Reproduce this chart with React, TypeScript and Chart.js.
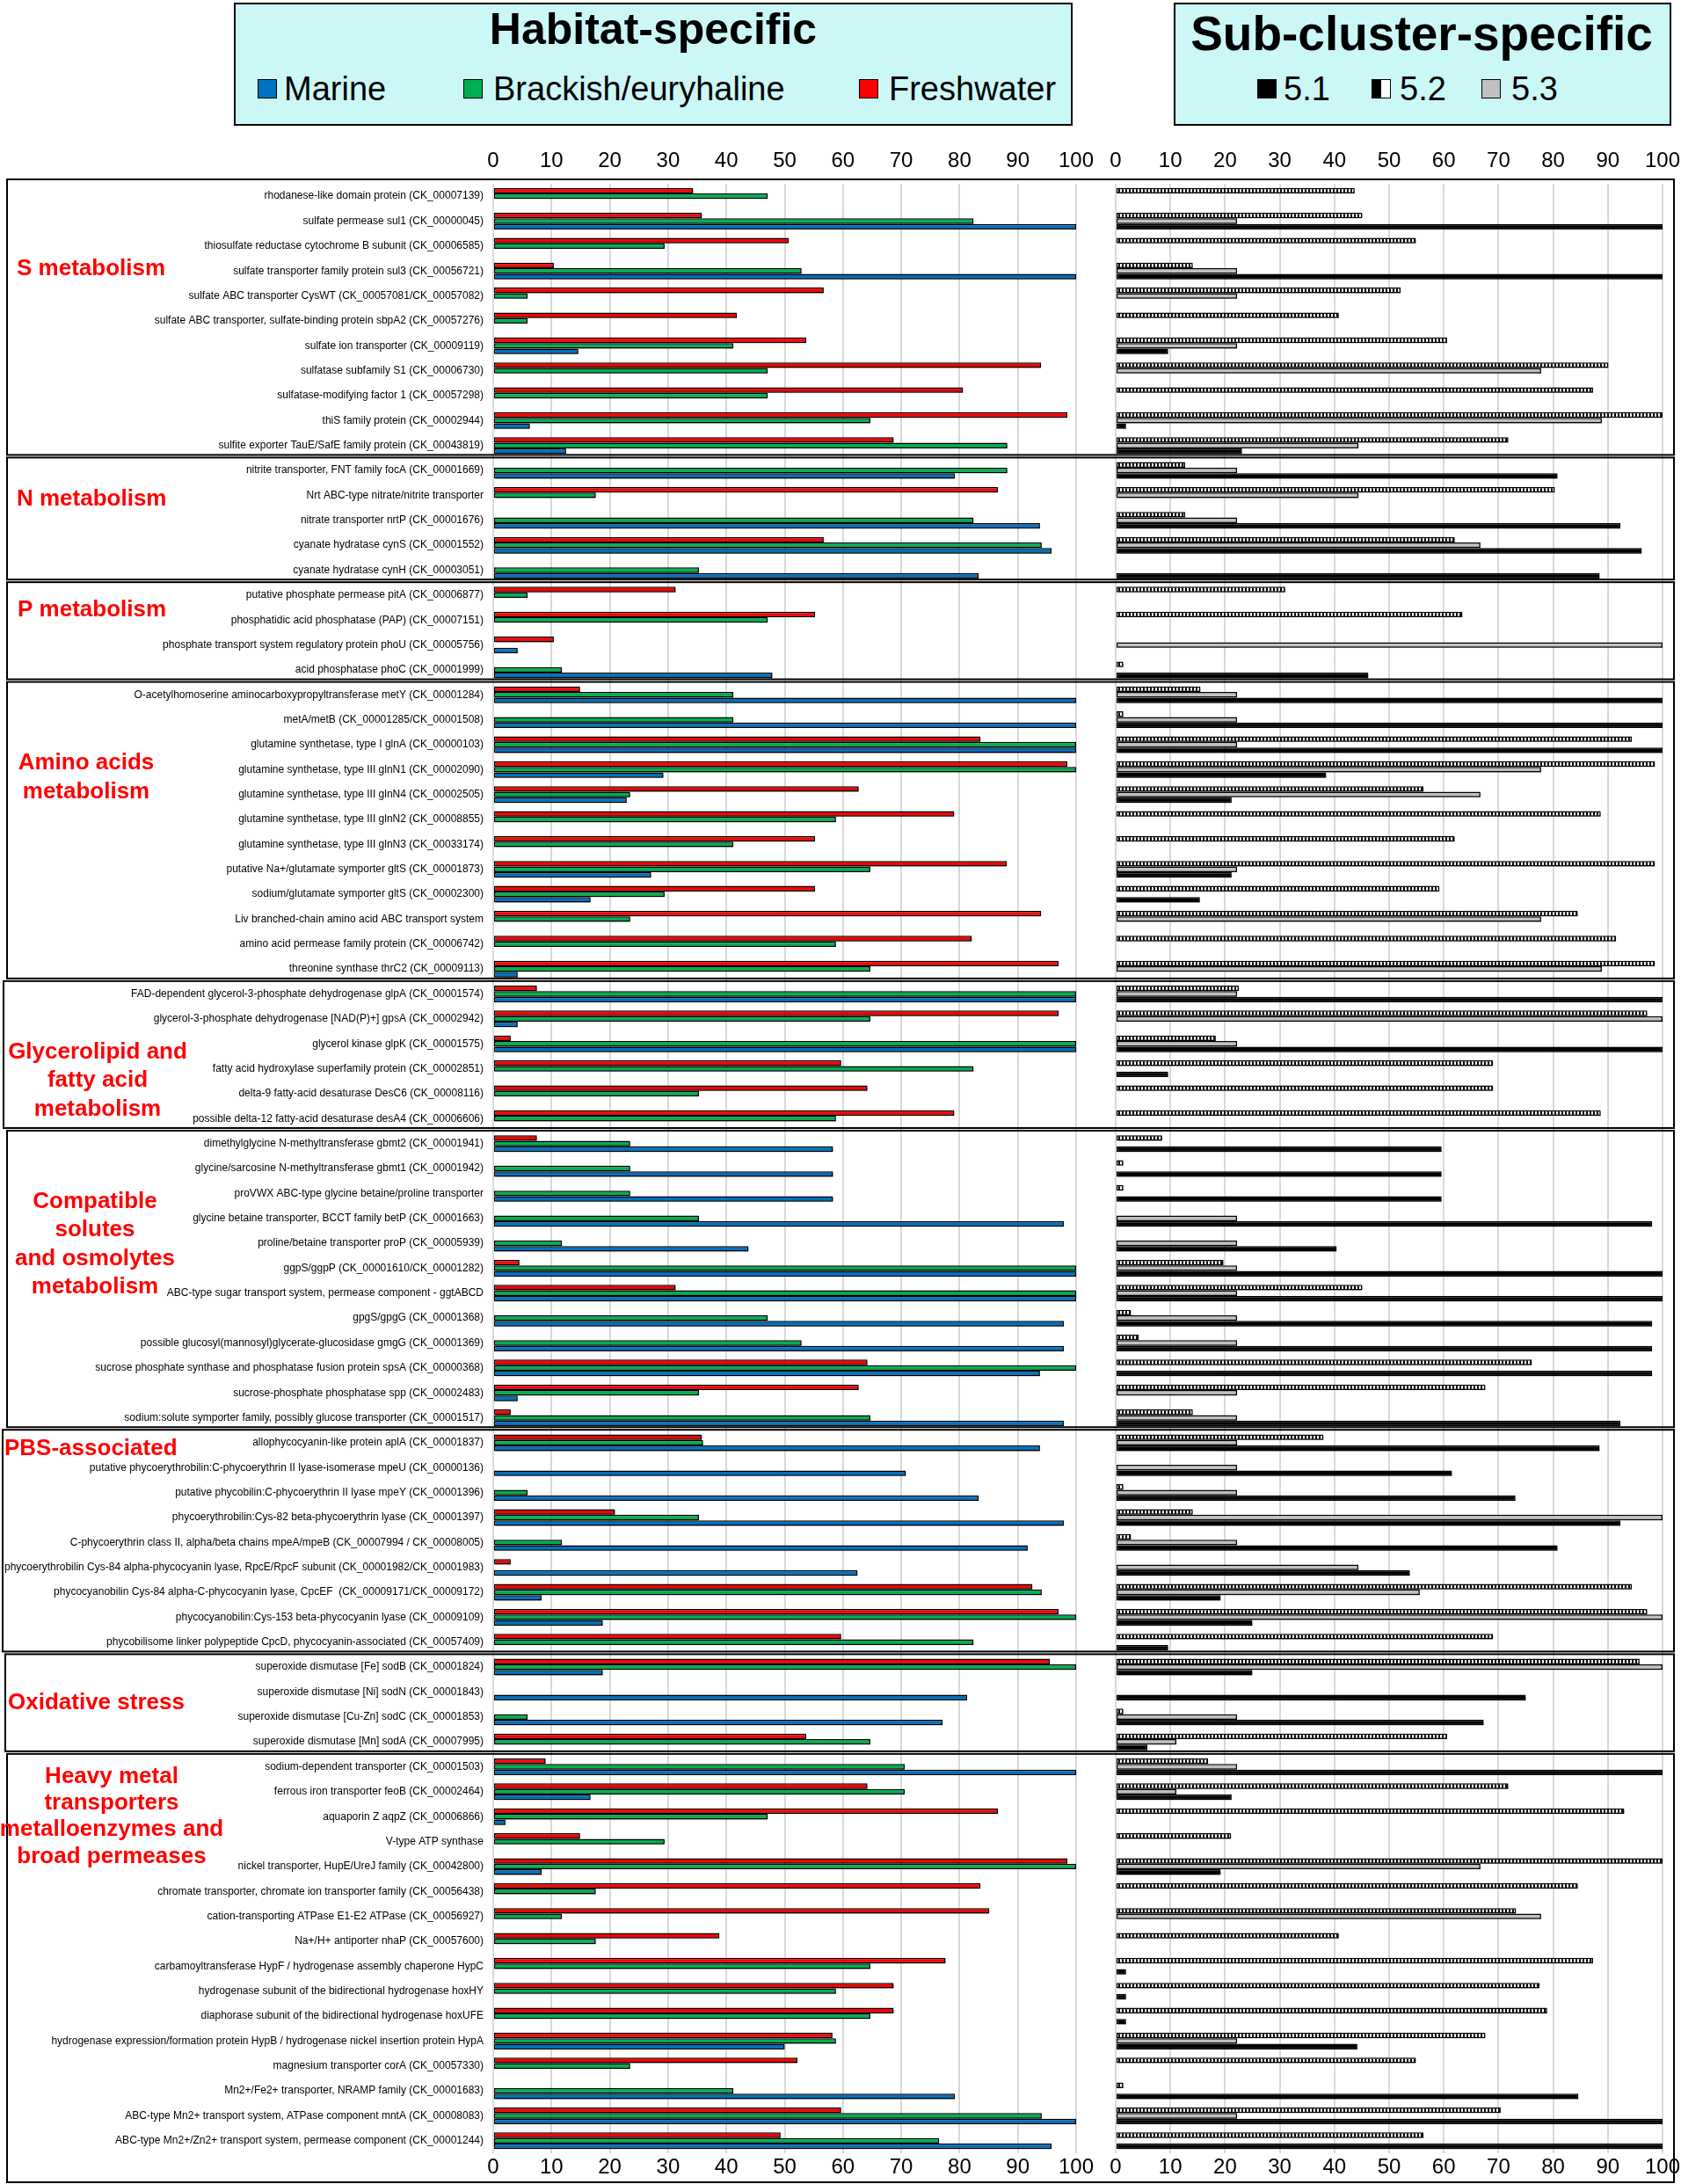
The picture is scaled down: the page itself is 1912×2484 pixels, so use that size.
import React, { useEffect, useRef } from 'react';
import { Chart, registerables } from 'chart.js';

Chart.register(...registerables);

const FONT = "'Liberation Sans', Arial, Helvetica, sans-serif";

// ---------------- DATA ----------------
const categories = [
  // S metabolism
  'rhodanese-like domain protein (CK_00007139)',
  'sulfate permease sul1 (CK_00000045)',
  'thiosulfate reductase cytochrome B subunit (CK_00006585)',
  'sulfate transporter family protein sul3 (CK_00056721)',
  'sulfate ABC transporter CysWT (CK_00057081/CK_00057082)',
  'sulfate ABC transporter, sulfate-binding protein sbpA2 (CK_00057276)',
  'sulfate ion transporter (CK_00009119)',
  'sulfatase subfamily S1 (CK_00006730)',
  'sulfatase-modifying factor 1 (CK_00057298)',
  'thiS family protein (CK_00002944)',
  'sulfite exporter TauE/SafE family protein (CK_00043819)',
  // N metabolism
  'nitrite transporter, FNT family focA (CK_00001669)',
  'Nrt ABC-type nitrate/nitrite transporter',
  'nitrate transporter nrtP (CK_00001676)',
  'cyanate hydratase cynS (CK_00001552)',
  'cyanate hydratase cynH (CK_00003051)',
  // P metabolism
  'putative phosphate permease pitA (CK_00006877)',
  'phosphatidic acid phosphatase (PAP) (CK_00007151)',
  'phosphate transport system regulatory protein phoU (CK_00005756)',
  'acid phosphatase phoC (CK_00001999)',
  // Amino acids metabolism
  'O-acetylhomoserine aminocarboxypropyltransferase metY (CK_00001284)',
  'metA/metB (CK_00001285/CK_00001508)',
  'glutamine synthetase, type I glnA (CK_00000103)',
  'glutamine synthetase, type III glnN1 (CK_00002090)',
  'glutamine synthetase, type III glnN4 (CK_00002505)',
  'glutamine synthetase, type III glnN2 (CK_00008855)',
  'glutamine synthetase, type III glnN3 (CK_00033174)',
  'putative Na+/glutamate symporter gltS (CK_00001873)',
  'sodium/glutamate symporter gltS (CK_00002300)',
  'Liv branched-chain amino acid ABC transport system',
  'amino acid permease family protein (CK_00006742)',
  'threonine synthase thrC2 (CK_00009113)',
  // Glycerolipid and fatty acid metabolism
  'FAD-dependent glycerol-3-phosphate dehydrogenase glpA (CK_00001574)',
  'glycerol-3-phosphate dehydrogenase [NAD(P)+] gpsA (CK_00002942)',
  'glycerol kinase glpK (CK_00001575)',
  'fatty acid hydroxylase superfamily protein (CK_00002851)',
  'delta-9 fatty-acid desaturase DesC6 (CK_00008116)',
  'possible delta-12 fatty-acid desaturase desA4 (CK_00006606)',
  // Compatible solutes
  'dimethylglycine N-methyltransferase gbmt2 (CK_00001941)',
  'glycine/sarcosine N-methyltransferase gbmt1 (CK_00001942)',
  'proVWX ABC-type glycine betaine/proline transporter',
  'glycine betaine transporter, BCCT family betP (CK_00001663)',
  'proline/betaine transporter proP (CK_00005939)',
  'ggpS/ggpP (CK_00001610/CK_00001282)',
  'ABC-type sugar transport system, permease component - ggtABCD',
  'gpgS/gpgG (CK_00001368)',
  'possible glucosyl(mannosyl)glycerate-glucosidase gmgG (CK_00001369)',
  'sucrose phosphate synthase and phosphatase fusion protein spsA (CK_00000368)',
  'sucrose-phosphate phosphatase spp (CK_00002483)',
  'sodium:solute symporter family, possibly glucose transporter (CK_00001517)',
  // PBS-associated
  'allophycocyanin-like protein aplA (CK_00001837)',
  'putative phycoerythrobilin:C-phycoerythrin II lyase-isomerase mpeU (CK_00000136)',
  'putative phycobilin:C-phycoerythrin II lyase mpeY (CK_00001396)',
  'phycoerythrobilin:Cys-82 beta-phycoerythrin lyase (CK_00001397)',
  'C-phycoerythrin class II, alpha/beta chains mpeA/mpeB (CK_00007994 / CK_00008005)',
  'phycoerythrobilin Cys-84 alpha-phycocyanin lyase, RpcE/RpcF subunit (CK_00001982/CK_00001983)',
  'phycocyanobilin Cys-84 alpha-C-phycocyanin lyase, CpcEF  (CK_00009171/CK_00009172)',
  'phycocyanobilin:Cys-153 beta-phycocyanin lyase (CK_00009109)',
  'phycobilisome linker polypeptide CpcD, phycocyanin-associated (CK_00057409)',
  // Oxidative stress
  'superoxide dismutase [Fe] sodB (CK_00001824)',
  'superoxide dismutase [Ni] sodN (CK_00001843)',
  'superoxide dismutase [Cu-Zn] sodC (CK_00001853)',
  'superoxide dismutase [Mn] sodA (CK_00007995)',
  // Heavy metal transporters...
  'sodium-dependent transporter (CK_00001503)',
  'ferrous iron transporter feoB (CK_00002464)',
  'aquaporin Z aqpZ (CK_00006866)',
  'V-type ATP synthase',
  'nickel transporter, HupE/UreJ family (CK_00042800)',
  'chromate transporter, chromate ion transporter family (CK_00056438)',
  'cation-transporting ATPase E1-E2 ATPase (CK_00056927)',
  'Na+/H+ antiporter nhaP (CK_00057600)',
  'carbamoyltransferase HypF / hydrogenase assembly chaperone HypC',
  'hydrogenase subunit of the bidirectional hydrogenase hoxHY',
  'diaphorase subunit of the bidirectional hydrogenase hoxUFE',
  'hydrogenase expression/formation protein HypB / hydrogenase nickel insertion protein HypA',
  'magnesium transporter corA (CK_00057330)',
  'Mn2+/Fe2+ transporter, NRAMP family (CK_00001683)',
  'ABC-type Mn2+ transport system, ATPase component mntA (CK_00008083)',
  'ABC-type Mn2+/Zn2+ transport system, permease component (CK_00001244)',
];

const sectionSizes = [11, 5, 4, 12, 6, 12, 9, 4, 16];

const freshwater = [
  34.3, 35.8, 50.7, 10.4, 56.7, 41.8, 53.7, 94.0, 80.6, 98.5, 68.7,
  null, 86.6, null, 56.7, null,
  31.3, 55.2, 10.4, null,
  14.9, null, 83.6, 98.5, 62.7, 79.1, 55.2, 88.1, 55.2, 94.0, 82.1, 97.0,
  7.5, 97.0, 3.0, 59.7, 64.2, 79.1,
  7.5, null, null, null, null, 4.5, 31.3, null, null, 64.2, 62.7, 3.0,
  35.8, null, null, 20.9, null, 3.0, 92.5, 97.0, 59.7,
  95.5, null, null, 53.7,
  9.0, 64.2, 86.6, 14.9, 98.5, 83.6, 85.1, 38.8, 77.6, 68.7, 68.7, 58.2, 52.2, null, 59.7, 49.3,
];

const brackish = [
  47.1, 82.4, 29.4, 52.9, 5.9, 5.9, 41.2, 47.1, 47.1, 64.7, 88.2,
  88.2, 17.6, 82.4, 94.1, 35.3,
  5.9, 47.1, null, 11.8,
  41.2, 41.2, 100, 100, 23.5, 58.8, 41.2, 64.7, 29.4, 23.5, 58.8, 64.7,
  100, 64.7, 100, 82.4, 35.3, 58.8,
  23.5, 23.5, 23.5, 35.3, 11.8, 100, 100, 47.1, 52.9, 100, 35.3, 64.7,
  36.0, null, 5.9, 35.3, 11.8, null, 94.1, 100, 82.4,
  100, null, 5.9, 64.7,
  70.6, 70.6, 47.1, 29.4, 100, 17.6, 11.8, 17.6, 64.7, 58.8, 64.7, 58.8, 23.5, 41.2, 94.1, 76.5,
];

const marine = [
  null, 100, null, 100, null, null, 14.6, null, null, 6.3, 12.5,
  79.2, null, 93.8, 95.8, 83.3,
  null, null, 4.2, 47.9,
  100, 100, 100, 29.2, 22.9, null, null, 27.1, 16.7, null, null, 4.2,
  100, 4.2, 100, null, null, null,
  58.3, 58.3, 58.3, 97.9, 43.8, 100, 100, 97.9, 97.9, 93.8, 4.2, 97.9,
  93.8, 70.8, 83.3, 97.9, 91.7, 62.5, 8.3, 18.8, null,
  18.8, 81.3, 77.1, null,
  100, 16.7, 2.1, null, 8.3, null, null, null, null, null, null, 50.0, null, 79.2, 100, 95.8,
];

const sub52 = [
  43.7, 45.1, 54.9, 14.1, 52.1, 40.8, 60.6, 90.1, 87.3, 100, 71.8,
  12.7, 80.3, 12.7, 62.0, null,
  31.0, 63.4, null, 1.4,
  15.5, 1.4, 94.4, 98.6, 56.3, 88.7, 62.0, 98.6, 59.2, 84.5, 91.5, 98.6,
  22.5, 97.2, 18.3, 69.0, 69.0, 88.7,
  8.5, 1.4, 1.4, null, null, 19.7, 45.1, 2.8, 4.2, 76.1, 67.6, 14.1,
  38.0, null, 1.4, 14.1, 2.8, null, 94.4, 97.2, 69.0,
  95.8, null, 1.4, 60.6,
  16.9, 71.8, 93.0, 21.1, 100, 84.5, 73.2, 40.8, 87.3, 77.5, 78.9, 67.6, 54.9, 1.4, 70.4, 56.3,
];

const sub53 = [
  null, 22.2, null, 22.2, 22.2, null, 22.2, 77.8, null, 88.9, 44.4,
  22.2, 44.4, 22.2, 66.7, null,
  null, null, 100, null,
  22.2, 22.2, 22.2, 77.8, 66.7, null, null, 22.2, null, 77.8, null, 88.9,
  22.2, 100, 22.2, null, null, null,
  null, null, null, 22.2, 22.2, 22.2, 22.2, 22.2, 22.2, null, 22.2, 22.2,
  22.2, 22.2, 22.2, 100, 22.2, 44.4, 55.6, 100, null,
  100, null, 22.2, 11.1,
  22.2, 11.1, null, null, 66.7, null, 77.8, null, null, null, null, 22.2, null, null, 22.2, null,
];

const sub51 = [
  null, 100, null, 100, null, null, 9.6, null, null, 1.9, 23.1,
  80.8, null, 92.3, 96.2, 88.5,
  null, null, null, 46.2,
  100, 100, 100, 38.5, 21.2, null, null, 21.2, 15.4, null, null, null,
  100, null, 100, 9.6, null, null,
  59.6, 59.6, 59.6, 98.1, 40.4, 100, 100, 98.1, 98.1, 98.1, null, 92.3,
  88.5, 61.5, 73.1, 92.3, 80.8, 53.8, 19.2, 25.0, 9.6,
  25.0, 75.0, 67.3, 5.8,
  100, 21.2, null, null, 19.2, null, null, null, 1.9, 1.9, 1.9, 44.2, null, 84.6, 100, 100,
];

// ---------------- LAYOUT ----------------
const W = 1912;
const H = 2484;
const PLOT_LEFT = 561;
const TOP_AXIS_H = 209;
const BOTTOM_AXIS_H = 35;
const L_W = 663;
const GAP_W = 45;
const R_W = 622;
const PAD_RIGHT = W - (PLOT_LEFT + L_W + GAP_W + R_W);
const BOX_RIGHT = 1904;
const boxLeft = [8, 8, 8, 8, 4, 8, 3, 6, 8];

// section labels: text lines, x, alignment, fractional row positions
const sectionText = [
  { lines: ['S metabolism'], x: 19, align: 'left', rows: [2.92] },
  { lines: ['N metabolism'], x: 19, align: 'left', rows: [12.16] },
  { lines: ['P metabolism'], x: 20, align: 'left', rows: [16.6] },
  { lines: ['Amino acids', 'metabolism'], x: 98, align: 'center', rows: [22.73, 23.89] },
  { lines: ['Glycerolipid and', 'fatty acid', 'metabolism'], x: 111, align: 'center', rows: [34.33, 35.46, 36.62] },
  { lines: ['Compatible', 'solutes', 'and osmolytes', 'metabolism'], x: 108, align: 'center', rows: [40.32, 41.45, 42.61, 43.74] },
  { lines: ['PBS-associated'], x: 5, align: 'left', rows: [50.23] },
  { lines: ['Oxidative stress'], x: 9, align: 'left', rows: [60.45] },
  { lines: ['Heavy metal', 'transporters', 'metalloenzymes and', 'broad permeases'], x: 127, align: 'center', rows: [63.41, 64.47, 65.53, 66.62] },
];

const RED = '#ff0000';
const GREEN = '#00b050';
const BLUE = '#0070c0';
const GRAY = '#c0c0c0';

function makeHatch(): CanvasPattern | string {
  const c = document.createElement('canvas');
  c.width = 4;
  c.height = 4;
  const x = c.getContext('2d');
  if (!x) return '#888';
  x.fillStyle = '#ffffff';
  x.fillRect(0, 0, 4, 4);
  x.fillStyle = '#000000';
  x.fillRect(0, 0, 2, 4);
  return x.createPattern(c, 'repeat') || '#888';
}

const shadowPlugin = {
  id: 'barShadow',
  beforeDatasetsDraw(chart: any) {
    const ctx = chart.ctx;
    ctx.save();
    ctx.shadowColor = 'rgba(0,0,0,0.35)';
    ctx.shadowOffsetX = 2;
    ctx.shadowOffsetY = 2;
    ctx.shadowBlur = 0;
  },
  afterDatasetsDraw(chart: any) {
    chart.ctx.restore();
  },
};

const decorPlugin = {
  id: 'decor',
  afterDraw(chart: any) {
    const ctx = chart.ctx;
    const { top, bottom } = chart.chartArea;
    const rowH = (bottom - top) / categories.length;
    ctx.save();
    ctx.strokeStyle = '#000';
    ctx.lineWidth = 2;
    let start = 0;
    sectionSizes.forEach((n, i) => {
      const y0 = i === 0 ? top - 5 : top + start * rowH - 0.5;
      const y1 = i === sectionSizes.length - 1 ? H - 2 : top + (start + n) * rowH - 3.5;
      const x0 = boxLeft[i];
      ctx.strokeRect(x0, y0, BOX_RIGHT - x0, y1 - y0);
      start += n;
    });
    ctx.fillStyle = RED;
    ctx.font = `bold 26px ${FONT}`;
    ctx.textBaseline = 'middle';
    sectionText.forEach((s) => {
      ctx.textAlign = s.align;
      s.lines.forEach((t, k) => {
        ctx.fillText(t, s.x, top + (s.rows[k] + 0.5) * rowH);
      });
    });
    ctx.restore();
  },
};

function valueAxis(position: string, stack: string, weight: number, stackWeight: number, showGrid: boolean, h: number, pad: number) {
  return {
    type: 'linear',
    position,
    stack,
    weight,
    stackWeight,
    min: 0,
    max: 100,
    ticks: {
      stepSize: 10,
      maxRotation: 0,
      autoSkip: false,
      color: '#000',
      padding: pad,
      font: { family: FONT, size: 24, lineHeight: 1 },
    },
    grid: { display: showGrid, drawTicks: false, tickLength: 0, color: '#d9d9d9', lineWidth: 2 },
    border: { display: false },
    afterFit: (s: any) => {
      s.height = h;
      s.paddingLeft = 0;
      s.paddingRight = 0;
    },
  };
}

function gapAxis(position: string, stack: string, weight: number, h: number) {
  return {
    type: 'linear',
    position,
    stack,
    weight,
    stackWeight: GAP_W,
    min: 0,
    max: 1,
    ticks: { display: false },
    grid: { display: false, drawTicks: false, tickLength: 0 },
    border: { display: false },
    afterFit: (s: any) => {
      s.height = h;
      s.paddingLeft = 0;
      s.paddingRight = 0;
    },
  };
}

function barSet(label: string, data: (number | null)[], bg: any, axis: string, stack: string) {
  return {
    label,
    data,
    backgroundColor: bg,
    borderColor: '#000',
    borderWidth: 1.5,
    borderSkipped: false,
    xAxisID: axis,
    stack,
    categoryPercentage: 0.67,
    barPercentage: 1.0,
  };
}

export default function App() {
  const ref = useRef<HTMLCanvasElement>(null);

  useEffect(() => {
    if (!ref.current) return;
    const hatch = makeHatch();
    const chart = new Chart(ref.current, {
      type: 'bar',
      data: {
        labels: categories,
        datasets: [
          barSet('Freshwater', freshwater, RED, 'xL', 's0'),
          barSet('Brackish/euryhaline', brackish, GREEN, 'xL', 's1'),
          barSet('Marine', marine, BLUE, 'xL', 's2'),
          barSet('5.2', sub52, hatch, 'xR', 's0'),
          barSet('5.3', sub53, GRAY, 'xR', 's1'),
          barSet('5.1', sub51, '#000000', 'xR', 's2'),
        ] as any,
      },
      options: {
        indexAxis: 'y',
        responsive: false,
        animation: false,
        devicePixelRatio: 1,
        events: [],
        layout: { padding: { left: 0, right: PAD_RIGHT, top: 0, bottom: 0 } },
        plugins: { legend: { display: false }, tooltip: { enabled: false } },
        scales: {
          y: {
            type: 'category',
            position: 'left',
            offset: true,
            grid: { display: false, drawTicks: false },
            border: { display: false },
            ticks: {
              autoSkip: false,
              color: '#000',
              padding: 11,
              font: { family: FONT, size: 12 },
            },
            afterFit: (s: any) => {
              s.width = PLOT_LEFT;
              s.paddingTop = 0;
              s.paddingBottom = 0;
            },
          },
          xL: valueAxis('bottom', 'b', 1, L_W, true, BOTTOM_AXIS_H, 4),
          gB: gapAxis('bottom', 'b', 2, BOTTOM_AXIS_H),
          xR: valueAxis('bottom', 'b', 3, R_W, true, BOTTOM_AXIS_H, 4),
          xLt: valueAxis('top', 't', 3, L_W, false, TOP_AXIS_H, 14),
          gT: gapAxis('top', 't', 2, TOP_AXIS_H),
          xRt: valueAxis('top', 't', 1, R_W, false, TOP_AXIS_H, 14),
        } as any,
      },
      plugins: [shadowPlugin, decorPlugin] as any,
    });
    return () => chart.destroy();
  }, []);

  const sq = (x: number, bg: string) => (
    <div
      style={{
        position: 'absolute',
        left: x,
        top: 90,
        width: 22,
        height: 22,
        background: bg,
        border: '1.5px solid #000',
        boxSizing: 'border-box',
      }}
    />
  );
  const txt = (x: number, t: string) => (
    <div
      style={{
        position: 'absolute',
        left: x,
        top: 101,
        transform: 'translateY(-50%)',
        fontFamily: FONT,
        fontSize: 38,
        lineHeight: 1,
        whiteSpace: 'nowrap',
        color: '#000',
      }}
    >
      {t}
    </div>
  );
  const title = (cx: number, cy: number, size: number, t: string) => (
    <div
      style={{
        position: 'absolute',
        left: cx,
        top: cy,
        transform: 'translate(-50%, -50%)',
        fontFamily: FONT,
        fontWeight: 'bold',
        fontSize: size,
        lineHeight: 1,
        whiteSpace: 'nowrap',
        color: '#000',
      }}
    >
      {t}
    </div>
  );
  const box = (x: number, w: number) => (
    <div
      style={{
        position: 'absolute',
        left: x,
        top: 3,
        width: w,
        height: 140,
        background: '#ccf7f7',
        border: '2px solid #000',
        boxSizing: 'border-box',
      }}
    />
  );

  return (
    <div style={{ position: 'absolute', left: 0, top: 0, width: W, height: H, background: '#fff', overflow: 'hidden' }}>
      <canvas ref={ref} width={W} height={H} style={{ position: 'absolute', left: 0, top: 0 }} />
      {box(266, 954)}
      {title(743, 33, 50, 'Habitat-specific')}
      {sq(293, BLUE)}
      {txt(323, 'Marine')}
      {sq(527, GREEN)}
      {txt(561, 'Brackish/euryhaline')}
      {sq(977, RED)}
      {txt(1011, 'Freshwater')}
      {box(1335, 566)}
      {title(1617, 38, 55, 'Sub-cluster-specific')}
      {sq(1430, '#000')}
      {txt(1460, '5.1')}
      {sq(1560, 'linear-gradient(to right, #000 50%, #fff 50%)')}
      {txt(1592, '5.2')}
      {sq(1685, GRAY)}
      {txt(1719, '5.3')}
    </div>
  );
}
